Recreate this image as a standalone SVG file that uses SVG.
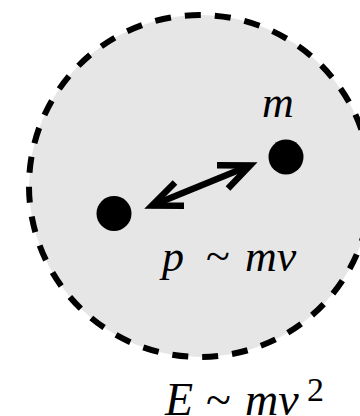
<svg xmlns="http://www.w3.org/2000/svg" width="360" height="416" viewBox="0 0 360 416">
<style>
.it{font-family:"Liberation Serif","Times New Roman",serif;font-style:italic;fill:#000}
.up{font-family:"Liberation Serif","Times New Roman",serif;font-style:normal;fill:#000}
.arr{fill:none;stroke:#000;stroke-width:6.5;stroke-linejoin:miter;stroke-linecap:butt}
</style>
<rect width="360" height="416" fill="#fff"/>
<g id="system">
<circle cx="200" cy="186" r="171" fill="#e6e6e6" stroke="#000" stroke-width="6" stroke-dasharray="16 14" stroke-dashoffset="19.7"/>
</g>
<g id="particle-left">
<circle cx="114" cy="213.5" r="17.5" fill="#000"/>
</g>
<g id="particle-right">
<circle cx="286" cy="157" r="17.5" fill="#000"/>
<text class="it" x="262" y="117" font-size="44">m</text>
</g>
<g id="connectors">
<path class="arr" d="M152,205.5 L250,165.5"/>
<path class="arr" d="M184,205.7 L152,205.5 L175,182.5"/>
<path class="arr" d="M217,165.3 L250,165.5 L228,188.5"/>
</g>
<g id="labels">
<text x="162" y="271" font-size="44"><tspan class="it">p</tspan><tspan class="up" x="206">~</tspan><tspan class="it" x="245">mv</tspan></text>
<text x="165" y="415" font-size="46"><tspan class="it">E</tspan><tspan class="up" x="206">~</tspan><tspan class="it" x="245">mv</tspan></text>
<text class="up" x="307" y="401" font-size="34">2</text>
</g>
</svg>
